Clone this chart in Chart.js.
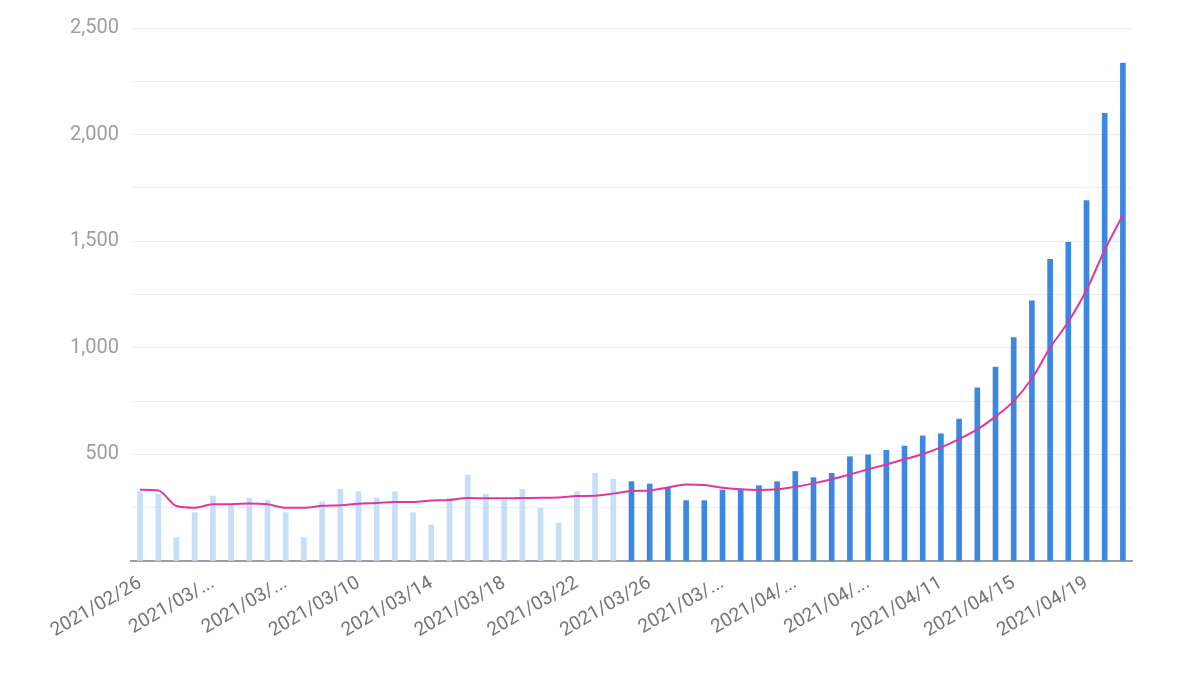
<!DOCTYPE html>
<html>
<head>
<meta charset="utf-8">
<script src="https://cdn.jsdelivr.net/npm/chart.js"></script>
<style>
  html, body { margin: 0; padding: 0; background: #fff; }
  #wrap { width: 1200px; height: 687px; }
</style>
</head>
<body>
<div id="wrap"><canvas id="chart"></canvas></div>
<script>
// daily values, 2021/02/26 .. 2021/04/21
const dates = [];
(function () {
  const d = new Date(Date.UTC(2021, 1, 26));
  for (let i = 0; i < 55; i++) {
    const m = String(d.getUTCMonth() + 1).padStart(2, '0');
    const day = String(d.getUTCDate()).padStart(2, '0');
    dates.push('2021/' + m + '/' + day);
    d.setUTCDate(d.getUTCDate() + 1);
  }
})();

// labels shown under every 4th bar (some were cut off in the original)
const tickLabels = {
  0: '2021/02/26', 4: '2021/03/...', 8: '2021/03/...', 12: '2021/03/10',
  16: '2021/03/14', 20: '2021/03/18', 24: '2021/03/22', 28: '2021/03/26',
  32: '2021/03/...', 36: '2021/04/...', 40: '2021/04/...', 44: '2021/04/11',
  48: '2021/04/15', 52: '2021/04/19'
};

const dailyCases = [
  325, 314, 109, 227, 305, 262, 295, 286, 227, 109, 277, 336, 325, 295,
  325, 227, 169, 295, 403, 314, 286, 336, 247, 178, 325, 412, 384,
  372, 361, 344, 283, 283, 333, 333, 353, 372, 420, 391, 411, 489, 498,
  519, 539, 587, 597, 666, 812, 909, 1048, 1220, 1415, 1495, 1690, 2100, 2335
];

const movingAvg = [
  334, 331, 258, 250, 266, 266, 270, 266, 250, 250, 259, 262, 269, 272,
  277, 277, 284, 286, 295, 294, 294, 295, 297, 298, 305, 306, 316,
  328, 331, 345, 359, 356, 344, 336, 333, 336, 348, 364, 383, 406, 430,
  453, 477, 502, 533, 572, 617, 677, 750, 856, 1000, 1122, 1271, 1459, 1623
];

const lightUntil = 27; // first bars shown pale
const barColors = dailyCases.map((v, i) => i < lightUntil ? '#c5dff8' : '#3c87e0');

new Chart(document.getElementById('chart'), {
  data: {
    labels: dates,
    datasets: [
      {
        type: 'line',
        data: movingAvg,
        borderColor: '#e2369b',
        borderWidth: 2,
        pointRadius: 0,
        cubicInterpolationMode: 'monotone',
        order: 0
      },
      {
        type: 'bar',
        data: dailyCases,
        backgroundColor: barColors,
        barThickness: 5,
        order: 1
      }
    ]
  },
  options: {
    responsive: true,
    maintainAspectRatio: false,
    animation: false,
    layout: { padding: { left: 10, right: 68, top: 28, bottom: 0 } },
    plugins: { legend: { display: false }, tooltip: { enabled: false } },
    scales: {
      x: {
        grid: { display: false },
        border: { color: '#9e9e9e', width: 2 },
        afterFit: axis => { axis.height = 126; },
        ticks: {
          autoSkip: false,
          maxRotation: 30,
          minRotation: 30,
          color: '#757575',
          font: { family: 'Roboto', size: 19 },
          callback: (v, i) => tickLabels[i] || ''
        }
      },
      y: {
        min: 0,
        max: 2500,
        border: { display: false },
        grid: { color: '#ebebeb', drawTicks: false },
        afterFit: axis => { axis.width = 121; },
        ticks: {
          stepSize: 250,
          padding: 12,
          color: '#9e9e9e',
          font: { family: 'Roboto', size: 20 },
          callback: v => (v % 500 === 0 && v > 0) ? v.toLocaleString('en-US') : ''
        }
      }
    }
  }
});
</script>
</body>
</html>
